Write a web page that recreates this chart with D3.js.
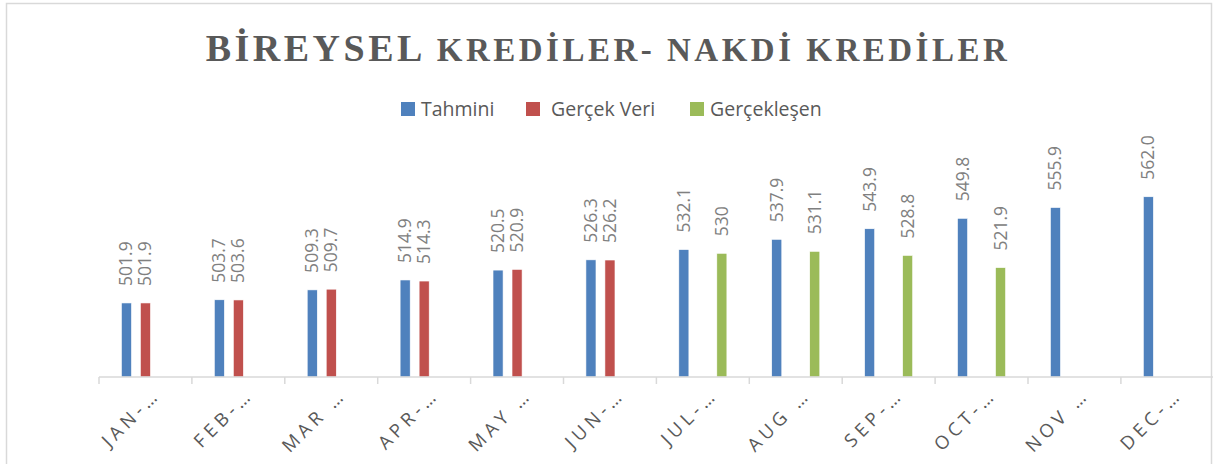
<!DOCTYPE html>
<html>
<head>
<meta charset="utf-8">
<script src="https://cdn.jsdelivr.net/npm/d3@7"></script>
<style>
  html, body { margin: 0; padding: 0; background: #fff; }
  #chart { width: 1213px; height: 464px; }
</style>
</head>
<body>
<div id="chart"></div>
<script>
const months = ["JAN-…", "FEB-…", "MAR …", "APR-…", "MAY …", "JUN-…",
                "JUL-…", "AUG …", "SEP-…", "OCT-…", "NOV …", "DEC-…"];
const seriesNames = ["Tahmini", "Gerçek Veri", "Gerçekleşen"];
const tahmini = [501.9, 503.7, 509.3, 514.9, 520.5, 526.3, 532.1, 537.9, 543.9, 549.8, 555.9, 562.0];
const gercekVeri = [501.9, 503.6, 509.7, 514.3, 520.9, 526.2, null, null, null, null, null, null];
const gerceklesen = [null, null, null, null, null, null, 530, 531.1, 528.8, 521.9, null, null];
const colors = ["#4f81bd", "#c0504d", "#9bbb59"];

window.onload = function () {
    const width = 1213, height = 464;
    const allSeries = [tahmini, gercekVeri, gerceklesen];
    const formats = [v => v.toFixed(1), v => v.toFixed(1), v => String(v)];

    const svg = d3.select("#chart")
        .append("svg")
        .attr("width", width)
        .attr("height", height);

    // chart border
    svg.append("rect")
        .attr("x", 6.5).attr("y", 3.5)
        .attr("width", 1205).attr("height", 470)
        .attr("fill", "none")
        .attr("stroke", "#d9d9d9")
        .attr("stroke-width", 1.5);

    // title
    const title = svg.append("text")
        .attr("x", 608).attr("y", 61)
        .attr("text-anchor", "middle")
        .style("font-family", "'Liberation Serif', 'Times New Roman', serif")
        .style("font-weight", "bold")
        .style("fill", "#595959")
        .style("letter-spacing", "3.5px");
    title.append("tspan").style("font-size", "38px").text("BİREYSEL ");
    title.append("tspan").style("font-size", "33px").text("KREDİLER- NAKDİ KREDİLER");

    // legend
    const legendItems = [
        { name: seriesNames[0], x: 401, tx: 421 },
        { name: seriesNames[1], x: 526, tx: 551 },
        { name: seriesNames[2], x: 690, tx: 710 }
    ];
    const legend = svg.append("g");
    legendItems.forEach(function (d, i) {
        legend.append("rect")
            .attr("x", d.x).attr("y", 102)
            .attr("width", 14).attr("height", 14)
            .attr("fill", colors[i]);
        legend.append("text")
            .attr("x", d.tx).attr("y", 116)
            .style("font-family", "'Open Sans', sans-serif")
            .style("font-size", "19.5px")
            .style("fill", "#595959")
            .text(d.name);
    });

    const xScale = d3.scaleBand()
        .domain(months)
        .range([99, 99 + 12 * 92.9]);

    const groupWidth = 57;
    const x1 = d3.scaleBand()
        .domain(seriesNames)
        .range([0, groupWidth])
        .paddingInner(0.47)
        .paddingOuter(0.235);

    const yScale = d3.scaleLinear()
        .domain([460, 600])
        .range([377, 129.6]);

    // bars
    seriesNames.forEach(function (name, si) {
        const vals = allSeries[si].map((v, i) => ({ m: months[i], v: v })).filter(d => d.v != null);
        const g = svg.append("g");
        g.selectAll("rect")
            .data(vals)
            .enter()
            .append("rect")
            .attr("x", d => xScale(d.m) + (xScale.bandwidth() - groupWidth) / 2 + x1(name))
            .attr("y", d => yScale(d.v))
            .attr("width", x1.bandwidth())
            .attr("height", d => yScale(460) - yScale(d.v))
            .attr("fill", colors[si])
            .attr("stroke", "#fff")
            .attr("stroke-width", 0.6);

        g.selectAll("text")
            .data(vals)
            .enter()
            .append("text")
            .attr("transform", d => {
                const cx = xScale(d.m) + (xScale.bandwidth() - groupWidth) / 2 + x1(name) + x1.bandwidth() / 2;
                return "translate(" + (cx + 6) + "," + (yScale(d.v) - 17) + ") rotate(-90)";
            })
            .style("font-family", "'Open Sans', sans-serif")
            .style("font-size", "17.5px")
            .style("fill", "#808080")
            .text(d => formats[si](d.v));
    });

    // x axis
    const axis = svg.append("g");
    axis.append("line")
        .attr("x1", 99).attr("x2", 1213)
        .attr("y1", 377).attr("y2", 377)
        .attr("stroke", "#d9d9d9").attr("stroke-width", 1.5);
    axis.selectAll("line.tick")
        .data(months.concat(["end"]))
        .enter()
        .append("line")
        .attr("class", "tick")
        .attr("x1", (d, i) => i < 12 ? xScale(d) : xScale.range()[1])
        .attr("x2", (d, i) => i < 12 ? xScale(d) : xScale.range()[1])
        .attr("y1", 377).attr("y2", 384)
        .attr("stroke", "#d9d9d9").attr("stroke-width", 1.5);
    axis.selectAll("text")
        .data(months)
        .enter()
        .append("text")
        .attr("transform", d => "translate(" + (xScale(d) + xScale.bandwidth() / 2 + 16) + ",396) rotate(-45)")
        .attr("text-anchor", "end")
        .style("font-family", "'Open Sans', sans-serif")
        .style("font-size", "18.5px")
        .style("letter-spacing", "4.5px")
        .style("fill", "#595959")
        .text(d => d);
};
</script>
</body>
</html>
